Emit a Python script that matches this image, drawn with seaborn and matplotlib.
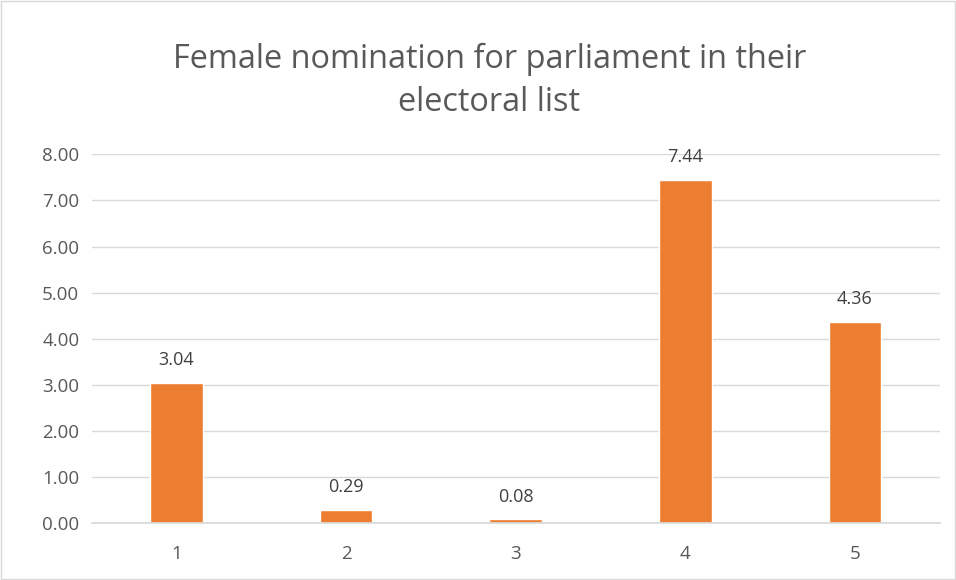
import matplotlib
matplotlib.use("Agg")
import matplotlib.pyplot as plt
import seaborn as sns
import pandas as pd

categories = ["1", "2", "3", "4", "5"]
values = [3.04, 0.29, 0.08, 7.44, 4.36]
yticks = [0, 1, 2, 3, 4, 5, 6, 7, 8]
title = "Female nomination for parliament in their\nelectoral list"

sns.set_theme(style="white")
plt.rcParams['font.family'] = ['Open Sans', 'DejaVu Sans']

df = pd.DataFrame({"cat": categories, "val": values})

fig = plt.figure(figsize=(9.56, 5.80), dpi=100)
ax = fig.add_axes([0.096, 0.098, 0.887, 0.636])
sns.barplot(data=df, x="cat", y="val", color="#ED7D31", width=0.31,
            saturation=1, ax=ax)

ax.set_ylim(0, 8)
ax.set_yticks(yticks)
ax.set_yticklabels([f"{t:.2f}" for t in yticks])
ax.grid(axis="y", color="#D9D9D9", linewidth=1)
ax.set_axisbelow(True)
for s in ["top", "right", "left"]:
    ax.spines[s].set_visible(False)
ax.spines["bottom"].set_color("#D9D9D9")
ax.tick_params(axis="both", length=0, labelsize=13.5, colors="#595959")
ax.tick_params(axis="y", pad=9)
ax.tick_params(axis="x", pad=16)
ax.set_xlabel("")
ax.set_ylabel("")

for cont in ax.containers:
    ax.bar_label(cont, labels=[f"{v:.2f}" for v in values], padding=10,
                 fontsize=13, color="#404040")

fig.text(0.512, 0.86, title, ha="center", va="center", fontsize=23.4,
         color="#595959", linespacing=1.4)

border = plt.Rectangle((0.001, 0.001), 0.998, 0.998, transform=fig.transFigure,
                       fill=False, edgecolor="#D9D9D9", linewidth=1)
fig.patches.append(border)

fig.savefig("out.png", dpi=100)
